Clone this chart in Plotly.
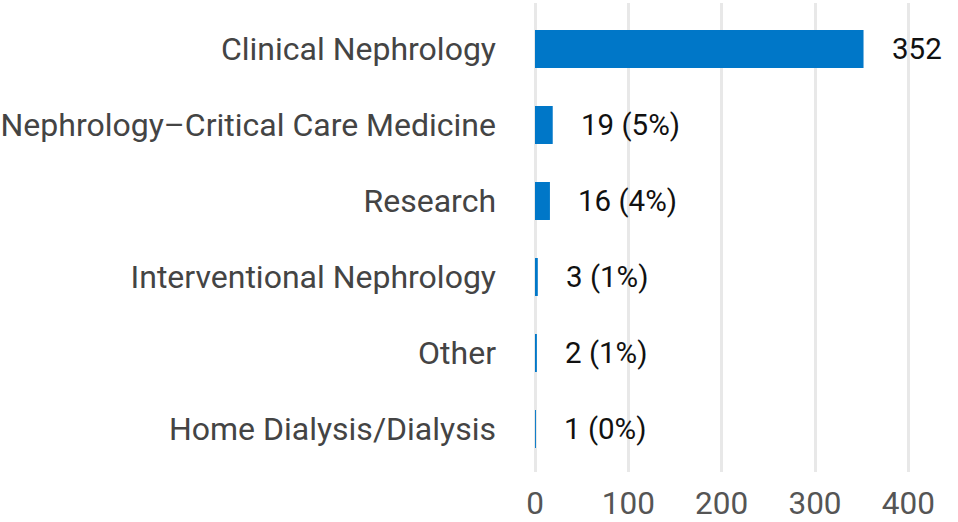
import plotly.graph_objects as go

categories = [
    "Clinical Nephrology",
    "Nephrology\u2013Critical Care Medicine",
    "Research",
    "Interventional Nephrology",
    "Other",
    "Home Dialysis/Dialysis",
]
values = [352, 19, 16, 3, 2, 1]
bar_labels = ["352", "19 (5%)", "16 (4%)", "3 (1%)", "2 (1%)", "1 (0%)"]
x_ticks = [0, 100, 200, 300, 400]

fig = go.Figure()
fig.add_trace(go.Bar(
    x=values,
    y=categories,
    orientation="h",
    marker=dict(color="#0077C8", line=dict(width=0)),
    width=0.5,
    hoverinfo="skip",
))

for cat, v, lab in zip(categories, values, bar_labels):
    fig.add_annotation(
        x=v, y=cat, text=lab, showarrow=False,
        xanchor="left", yanchor="middle", xshift=26,
        font=dict(family="Roboto", size=29.5, color="#111111"),
    )

fig.update_layout(
    width=958, height=522,
    margin=dict(l=535, r=3, t=3, b=50, autoexpand=False),
    paper_bgcolor="white", plot_bgcolor="white",
    showlegend=False,
    font=dict(family="Roboto", size=32, color="#444444"),
    bargap=0.5,
)
fig.update_xaxes(
    range=[0, 450],
    tickvals=x_ticks,
    showgrid=True, gridcolor="#e8e8e8", gridwidth=3,
    zeroline=True, zerolinecolor="#e8e8e8", zerolinewidth=3,
    showline=False, ticks="", ticklabelstandoff=9,
    automargin=False,
    tickfont=dict(family="Roboto", size=31.5, color="#555555"),
)
fig.update_yaxes(
    categoryorder="array", categoryarray=categories,
    range=[5.566, -0.605],
    showgrid=False, zeroline=False, showline=False,
    ticks="", ticklabelstandoff=38,
    automargin=False,
    tickfont=dict(family="Roboto", size=32, color="#444444"),
)

fig.write_html(
    "out.html",
    config={"displayModeBar": False, "staticPlot": True},
    post_script="document.body.style.margin='0px';document.body.style.overflow='hidden';",
)
